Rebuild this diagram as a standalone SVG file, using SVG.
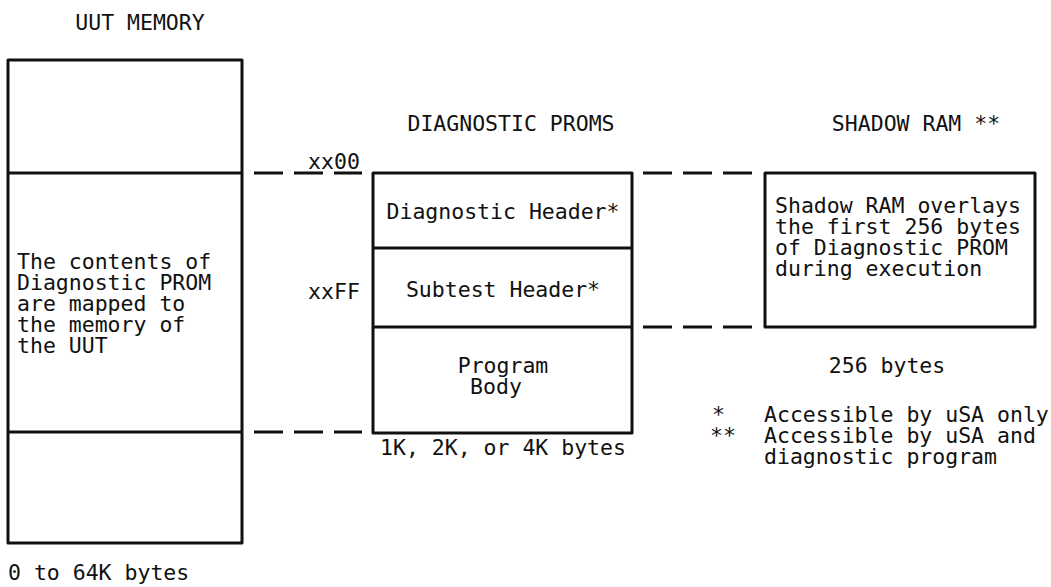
<svg xmlns="http://www.w3.org/2000/svg" width="1051" height="587" viewBox="0 0 1051 587">
  <style>
    .box { fill: #fff; stroke: #111; stroke-width: 3; stroke-linejoin: round; }
    .div { stroke: #111; stroke-width: 3; }
    .dash { stroke: #111; stroke-width: 3; stroke-dasharray: 29 11; fill: none; }
    text { font-family: "DejaVu Sans Mono", "Liberation Mono", monospace; font-size: 21.5px; fill: #111; }
    .c { text-anchor: middle; }
  </style>
  <rect width="1051" height="587" fill="#fff"/>

  <!-- UUT memory map -->
  <g id="uut-memory">
    <text x="140" y="30" class="c">UUT MEMORY</text>
    <rect class="box" x="8" y="60" width="234" height="483"/>
    <line class="div" x1="8" y1="173" x2="242" y2="173"/>
    <line class="div" x1="8" y1="432" x2="242" y2="432"/>
    <text x="17" y="269">The contents of</text>
    <text x="17" y="290">Diagnostic PROM</text>
    <text x="17" y="311">are mapped to</text>
    <text x="17" y="332">the memory of</text>
    <text x="17" y="353">the UUT</text>
    <text x="8" y="580">0 to 64K bytes</text>
  </g>

  <!-- Address labels -->
  <g id="addresses">
    <text x="334" y="169" class="c">xx00</text>
    <text x="334" y="299" class="c">xxFF</text>
  </g>

  <!-- Diagnostic PROMs -->
  <g id="diagnostic-proms">
    <text x="511" y="131" class="c">DIAGNOSTIC PROMS</text>
    <rect class="box" x="373" y="173" width="259" height="260"/>
    <line class="div" x1="373" y1="248" x2="632" y2="248"/>
    <line class="div" x1="373" y1="327" x2="632" y2="327"/>
    <text x="503" y="219" class="c">Diagnostic Header*</text>
    <text x="503" y="297" class="c">Subtest Header*</text>
    <text x="503" y="373" class="c">Program</text>
    <text x="496" y="394" class="c">Body</text>
    <text x="503" y="455" class="c">1K, 2K, or 4K bytes</text>
  </g>

  <!-- Shadow RAM -->
  <g id="shadow-ram">
    <text x="916" y="131" class="c">SHADOW RAM **</text>
    <rect class="box" x="765" y="173" width="270" height="154"/>
    <text x="775" y="213">Shadow RAM overlays</text>
    <text x="775" y="234">the first 256 bytes</text>
    <text x="775" y="255">of Diagnostic PROM</text>
    <text x="775" y="276">during execution</text>
    <text x="887" y="373" class="c">256 bytes</text>
  </g>

  <!-- Legend -->
  <g id="legend">
    <text x="712" y="422">*</text>
    <text x="764" y="422">Accessible by uSA only</text>
    <text x="710" y="443">**</text>
    <text x="764" y="443">Accessible by uSA and</text>
    <text x="764" y="464">diagnostic program</text>
  </g>

  <!-- Dashed mapping connectors -->
  <g id="connectors">
    <line class="dash" x1="254" y1="173" x2="362" y2="173"/>
    <line class="dash" x1="254" y1="432" x2="362" y2="432"/>
    <line class="dash" x1="643" y1="173" x2="752" y2="173"/>
    <line class="dash" x1="643" y1="327" x2="752" y2="327"/>
  </g>
</svg>
